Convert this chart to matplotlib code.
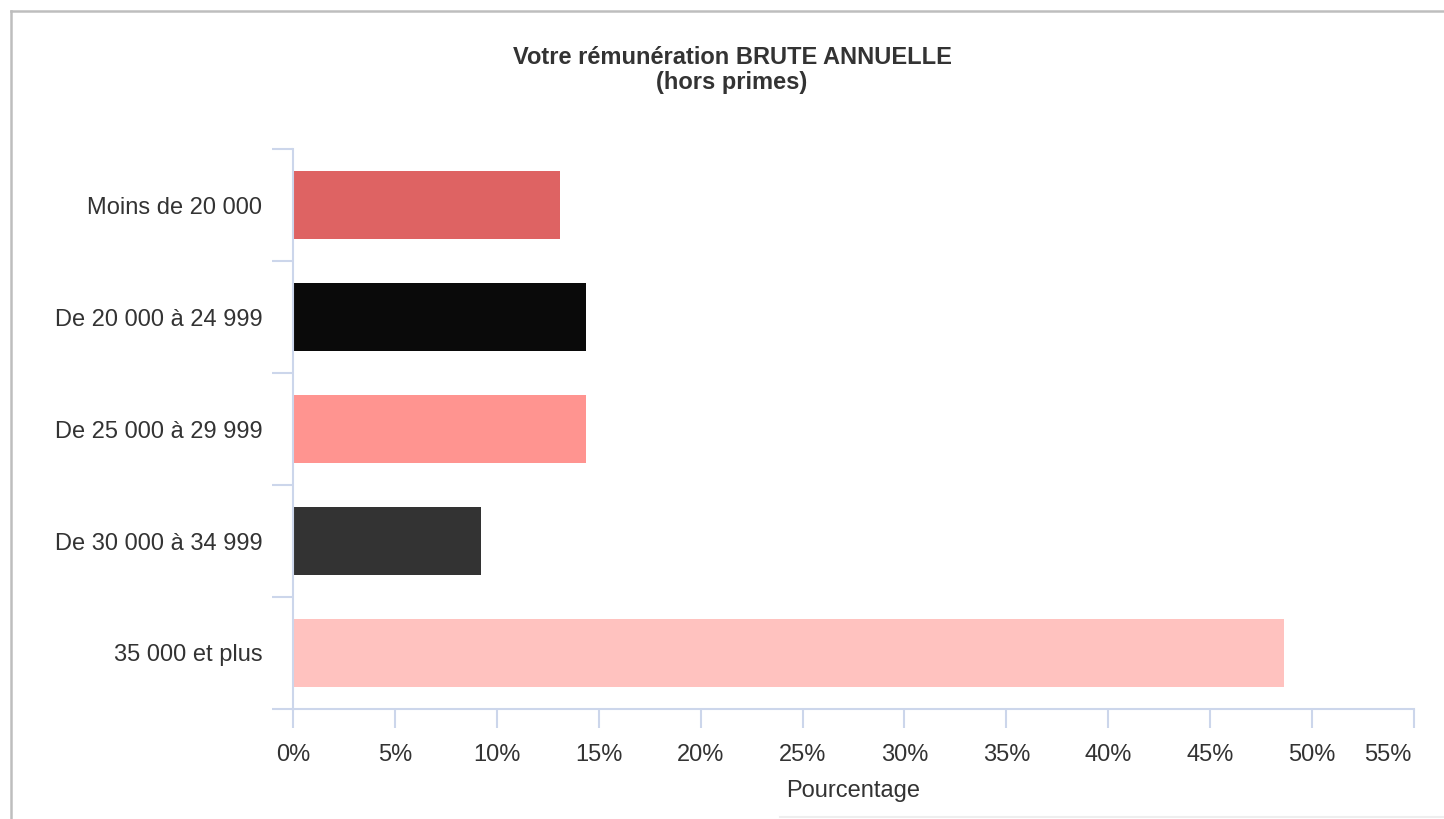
import matplotlib
matplotlib.use('Agg')
import matplotlib.pyplot as plt
import matplotlib.transforms as mtransforms
from matplotlib.lines import Line2D

plt.rcParams['font.family'] = ['Liberation Sans', 'DejaVu Sans']

categories = ['Moins de 20 000', 'De 20 000 à 24 999', 'De 25 000 à 29 999',
              'De 30 000 à 34 999', '35 000 et plus']
values = [13.1, 14.4, 14.4, 9.2, 48.6]
colors = ['#DE6363', '#0A0A0A', '#FF9490', '#333333', '#FFC2BF']
xticks = [0, 5, 10, 15, 20, 25, 30, 35, 40, 45, 50, 55]
xticklabels = [str(t) + '%' for t in xticks]

axis_col = '#CCD6EB'
text_col = '#333333'
fs = 17

fig = plt.figure(figsize=(14.44, 8.19), dpi=100)
ax = fig.add_axes([293/1444, 1 - 709/819, (1414-293)/1444, (709-149)/819])

pos = list(range(len(categories)))
ax.barh(pos, values, height=0.6, color=colors)

ax.set_xlim(0, 55)
ax.set_ylim(len(categories) - 0.5, -0.5)

# category boundaries as major ticks, labels on minor ticks
ax.set_yticks([p - 0.5 for p in pos] + [len(categories) - 0.5])
ax.set_yticklabels([])
ax.set_yticks(pos, minor=True)
ax.set_yticklabels(categories, minor=True, fontsize=fs, color=text_col)
ax.tick_params(axis='y', which='major', length=15, width=1.5, color=axis_col, direction='out')
ax.tick_params(axis='y', which='minor', length=0, pad=22)

ax.set_xticks(xticks)
ax.set_xticklabels(xticklabels, fontsize=fs, color=text_col)
ax.tick_params(axis='x', length=14, width=1.5, color=axis_col, pad=11)
# last label kept inside the chart
last = ax.get_xticklabels()[-1]
last.set_transform(last.get_transform() + mtransforms.ScaledTranslation(-0.26, 0, fig.dpi_scale_trans))

for s in ['top', 'right']:
    ax.spines[s].set_visible(False)
for s in ['left', 'bottom']:
    ax.spines[s].set_color(axis_col)
    ax.spines[s].set_linewidth(1.5)

ax.set_xlabel('Pourcentage', fontsize=fs, color=text_col, labelpad=10)

fig.text(732/1444, 1 - 70/819, 'Votre rémunération BRUTE ANNUELLE\n(hors primes)',
         ha='center', va='center', fontsize=fs, fontweight='bold', color=text_col,
         linespacing=1.1)

# outer frame
fig.add_artist(Line2D([11/1444, 1], [1 - 11/819, 1 - 11/819], color='#BEBEBE', lw=1.8))
fig.add_artist(Line2D([11/1444, 11/1444], [0, 1 - 11/819], color='#BEBEBE', lw=1.8))
fig.add_artist(Line2D([780/1444, 1], [2/819, 2/819], color='#EEEEEE', lw=1.5))

fig.savefig('out.png', dpi=100)
